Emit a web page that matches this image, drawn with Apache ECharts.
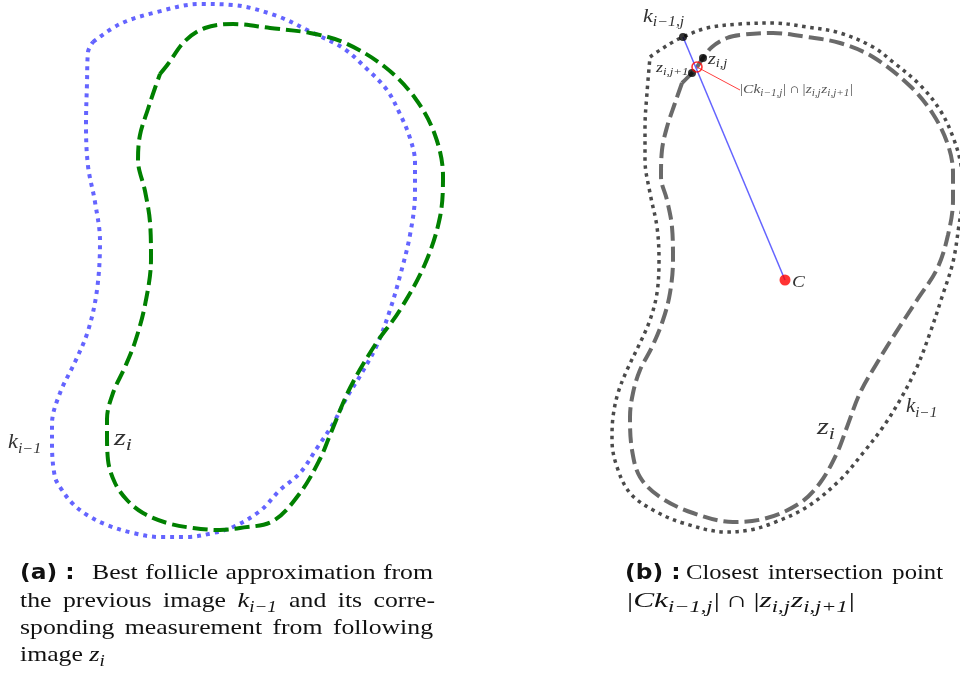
<!DOCTYPE html>
<html>
<head>
<meta charset="utf-8">
<script src="https://cdn.jsdelivr.net/npm/echarts@6/dist/echarts.min.js"></script>
<style>html,body{margin:0;padding:0;background:#fff}#c{width:960px;height:677px}</style>
</head>
<body>
<div id="c"></div>
<script>
// ---- Data (traced outlines, in figure units) ----
const kPrevA = [[93,42],[120,24],[157,12],[200,4],[233,5],[277,16],[313,33],[343,48],[367,69],[387,90],[400,114],[410,138],[415,162],[415,193],[410,235],[400,276],[390,310],[377,345],[360,376],[347,397],[333,424],[317,448],[300,473],[280,490],[260,511],[233,527],[213,533],[187,537],[160,537],[133,533],[107,525],[87,515],[72,503],[62,490],[55,477],[52,443],[52,424],[60,393],[75,362],[88,331],[97,290],[100,241],[95,202],[88,166],[86,124],[87,83],[88,52],[93,42]];
const measA = [[160,74],[168,64],[185,41],[205,28],[233,24],[270,28],[310,33],[345,43],[385,67],[415,98],[435,135],[443,176],[440,217],[425,264],[400,310],[375,345],[350,388],[330,435],[320,459],[300,493],[273,521],[240,528],[220,530],[193,528],[167,523],[143,513],[127,500],[115,483],[108,460],[107,433],[107,419],[113,393],[125,367],[135,342],[145,305],[151,259],[150,222],[145,191],[138,160],[140,135],[148,109],[155,88],[160,74]];
const kPrevB = [[650,57],[660,50],[673,42],[683,37],[707,28],[740,24],[773,23],[807,27],[840,33],[873,47],[893,62],[920,85],[940,110],[953,137],[961,165],[963,195],[959,225],[953,262],[942,297],[930,333],[917,367],[900,400],[883,427],[863,453],[840,480],[807,507],[773,523],[750,530],[727,532],[683,523],[653,510],[630,493],[617,467],[612,440],[613,417],[618,393],[627,370],[640,343],[650,320],[657,293],[659,260],[657,227],[650,193],[645,160],[645,127],[647,93],[650,57]];
const measB = [[682,83],[692,73],[697,67],[703,58],[712,47],[727,38],[740,35],[773,33],[807,37],[840,43],[873,57],[910,86],[933,114],[948,145],[953,173],[953,200],[948,235],[937,269],[917,300],[893,337],[877,363],[860,393],[847,427],[837,453],[820,483],[800,503],[767,518],[733,522],[693,513],[660,497],[640,477],[632,450],[630,417],[633,393],[640,370],[652,347],[663,320],[670,293],[673,260],[672,227],[667,200],[661,177],[662,150],[667,127],[675,103],[682,83]];
const kPointJ = [683,37];
const zPointsJ = [[703,58],[692,73]];
const centerC = [785,280];
const intersectPt = [697,67];
const leaderEnd = [740,90];

// ---- Text layout helpers ----
const SERIF = '"Liberation Serif", "DejaVu Serif", serif';
const SANS = '"DejaVu Sans", "Liberation Sans", sans-serif';
const mctx = document.createElement('canvas').getContext('2d');
function fontOf(kind, size){
  if (kind === 'm' || kind === 's') return 'italic ' + size + 'px ' + SERIF;
  if (kind === 'b') return 'bold ' + size + 'px ' + SANS;
  return size + 'px ' + SERIF;
}
// segs: [kind, text]; kinds: t text, m math italic, s subscript italic, b bold sans, sp space(em)
function layout(x0, base, segs, size, opt){
  opt = opt || {};
  const sxT = opt.sxT || 1.17, sxM = opt.sxM || 1.2, sxB = opt.sxB || 1.12, fill = opt.fill || '#111';
  const toks = [];
  segs.forEach(function(sg){
    const kind = sg[0], str = sg[1];
    if (kind === 'sp') { toks.push({gap:true, w:str * size}); return; }
    const sub = kind === 's';
    const sz = sub ? Math.round(size * 0.72 * 10) / 10 : (kind === 'b' ? size * 0.95 : size);
    const sx = kind === 't' ? sxT : (kind === 'b' ? sxB : sxM);
    const font = fontOf(kind, sz);
    mctx.font = font;
    const pieces = (kind === 't' && opt.justifyTo) ? str.split(/( )/) : [str];
    pieces.forEach(function(p){
      if (p === '') return;
      if (p === ' ') { toks.push({gap:true, stretch:true, w:mctx.measureText(' ').width * sx}); return; }
      toks.push({str:p, font:font, sz:sz, sx:sx, sub:sub,
        w:mctx.measureText(p).width * sx + (sub ? size * 0.04 : 0)});
    });
  });
  const natural = toks.reduce(function(a,t){return a + t.w;}, 0);
  let factor = opt.fitTo ? opt.fitTo / natural : 1;
  const nStretch = toks.filter(function(t){return t.stretch;}).length;
  let extra = (opt.justifyTo && nStretch) ? (opt.justifyTo - x0 - natural) / nStretch : 0;
  if (extra < 0) { factor = (opt.justifyTo - x0) / natural; extra = 0; }
  const out = [];
  let x = x0;
  toks.forEach(function(t){
    if (t.gap) { x += t.w * factor + (t.stretch ? extra : 0); return; }
    const b = t.sub ? base + size * 0.2 : base;
    out.push({type:'text', x:x, y:b - 0.34 * t.sz, scaleX:t.sx * factor, silent:true, z:100,
      style:{text:t.str, font:t.font, fill:fill, align:'left', verticalAlign:'middle'}});
    x += t.w * factor;
  });
  return out;
}

const chart = echarts.init(document.getElementById('c'), null, {renderer:'canvas'});
const lineBase = {type:'line',showSymbol:false,smooth:0.35,animation:false,silent:true};

const LBL = '#333';
const formula = [['t','|'],['m','Ck'],['s','i−1,j'],['t','|'],['sp',0.22],['t','∩'],['sp',0.22],['t','|'],['m','z'],['s','i,j'],['m','z'],['s','i,j+1'],['t','|']];
let graphics = [].concat(
  layout(8, 450, [['m','k'],['s','i−1']], 20, {fill:LBL, fitTo:34}),
  layout(114, 447, [['m','z'],['s','i']], 23, {fill:LBL, fitTo:19}),
  layout(643, 23, [['m','k'],['s','i−1,j']], 19, {fill:LBL, fitTo:42}),
  layout(708, 65, [['m','z'],['s','i,j']], 16, {fill:LBL, fitTo:20}),
  layout(656, 73, [['m','z'],['s','i,j+1']], 15, {fill:LBL, fitTo:33}),
  layout(740, 94, formula, 13, {fill:'#555', fitTo:113}),
  layout(792, 288, [['m','C']], 16, {fill:LBL}),
  layout(817, 436, [['m','z'],['s','i']], 23, {fill:LBL, fitTo:19}),
  layout(906, 414, [['m','k'],['s','i−1']], 20, {fill:LBL, fitTo:32}),
  // captions
  layout(20, 581, [['b','(a) :']], 22),
  layout(92, 581, [['t','Best follicle approximation from']], 22, {justifyTo:433}),
  layout(20, 609, [['t','the previous image '],['m','k'],['s','i−1'],['t',' and its corre-']], 22, {justifyTo:435}),
  layout(20, 636, [['t','sponding measurement from following']], 22, {justifyTo:433}),
  layout(20, 663, [['t','image '],['m','z'],['s','i']], 22),
  layout(625, 581, [['b','(b) :']], 22),
  layout(686, 581, [['t','Closest intersection point']], 22, {sxT:1.12, justifyTo:943}),
  layout(627, 609, formula, 22, {fitTo:228})
);

chart.setOption({
  animation:false,
  backgroundColor:'#fff',
  grid:{left:0,right:0,top:0,bottom:0},
  xAxis:{type:'value',min:0,max:960,show:false},
  yAxis:{type:'value',min:0,max:677,inverse:true,show:false},
  series:[
    Object.assign({},lineBase,{name:'k_{i-1} (a)',data:kPrevA,lineStyle:{color:'#6464ff',width:4,type:[4,5],cap:'butt'}}),
    Object.assign({},lineBase,{name:'z_i (a)',data:measA,lineStyle:{color:'#008000',width:4,type:[15,6],cap:'butt'}}),
    Object.assign({},lineBase,{name:'k_{i-1} (b)',data:kPrevB,lineStyle:{color:'#4a4a4a',width:3.5,type:[3.5,4.5],cap:'butt'}}),
    Object.assign({},lineBase,{name:'z_i (b)',data:measB,lineStyle:{color:'#6a6a6a',width:4,type:[15,6],cap:'butt'}}),
    Object.assign({},lineBase,{name:'Ck',smooth:false,data:[kPointJ,centerC],lineStyle:{color:'#6464ff',width:1.5},z:5}),
    Object.assign({},lineBase,{name:'leader',smooth:false,data:[intersectPt,leaderEnd],lineStyle:{color:'#ff4040',width:1},z:5}),
    {type:'scatter',name:'pts',data:[kPointJ].concat(zPointsJ),symbol:'circle',symbolSize:8,itemStyle:{color:'#000'},z:6,animation:false,silent:true},
    {type:'scatter',name:'C',data:[centerC],symbol:'circle',symbolSize:11,itemStyle:{color:'#ff0000'},z:6,animation:false,silent:true},
    {type:'scatter',name:'inter',data:[intersectPt],symbol:'circle',symbolSize:10,itemStyle:{color:'rgba(0,0,0,0)',borderColor:'#ff0000',borderWidth:1.6},z:7,animation:false,silent:true}
  ],
  graphic:graphics
});
</script>
</body>
</html>
